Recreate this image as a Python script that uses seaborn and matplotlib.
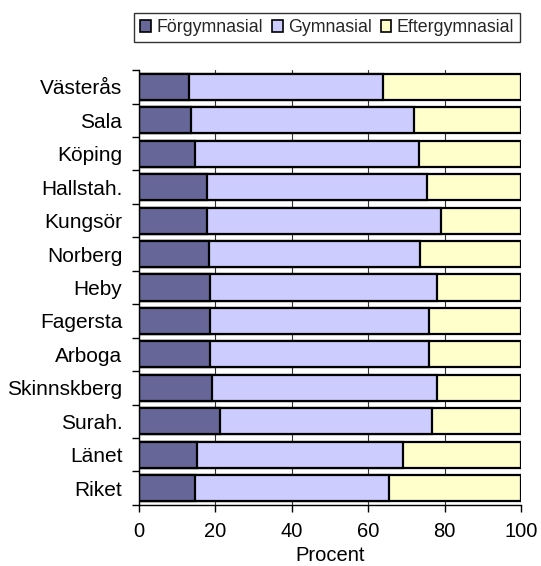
import seaborn as sns
import matplotlib.pyplot as plt
import matplotlib.patches as mpatches
import pandas as pd
import numpy as np

DARK, MID, LIGHT = '#666699', '#ccccff', '#ffffcc'

kommuner = ['Västerås', 'Sala', 'Köping', 'Hallstah.', 'Kungsör', 'Norberg', 'Heby',
            'Fagersta', 'Arboga', 'Skinnskberg', 'Surah.', 'Länet', 'Riket']
forgymn = [13.1, 13.6, 14.7, 17.7, 17.7, 18.3, 18.7, 18.7, 18.7, 19.1, 21.2, 15.2, 14.7]
gymn    = [50.9, 58.4, 58.7, 57.8, 61.4, 55.3, 59.4, 57.3, 57.3, 59.0, 55.4, 53.8, 50.8]
efter   = [36.0, 28.0, 26.6, 24.5, 20.9, 26.4, 21.9, 24.0, 24.0, 21.9, 23.4, 31.0, 34.5]
serier  = ['Förgymnasial', 'Gymnasial', 'Eftergymnasial']

df = pd.DataFrame({'Kommun': kommuner, 'Förgymnasial': forgymn,
                   'Gymnasial': gymn, 'Eftergymnasial': efter})
df['c1'] = df['Förgymnasial']
df['c2'] = df['c1'] + df['Gymnasial']
df['c3'] = df['c2'] + df['Eftergymnasial']

sns.set_theme(style='ticks')
plt.rcParams['font.family'] = ['Liberation Sans', 'DejaVu Sans']

fig = plt.figure(figsize=(5.41, 5.66), dpi=100, facecolor='white')
ax = fig.add_axes([0.257, 0.108, 0.706, 0.768])

# stacked bars: draw cumulative totals from the back to the front
for col, color in [('c3', LIGHT), ('c2', MID), ('c1', DARK)]:
    sns.barplot(data=df, x=col, y='Kommun', orient='h', color=color, ax=ax,
                width=0.78, edgecolor='black', linewidth=1.6, saturation=1,
                errorbar=None, zorder=3)

ax.set_xlim(0, 100)
ax.set_ylim(12.5, -0.5)
ax.set_xticks(np.arange(0, 101, 20))
ax.xaxis.grid(True, color='#333333', lw=0.8)
ax.set_axisbelow(True)
ax.set_xlabel('Procent', fontsize=14.5, color='black', labelpad=4)
ax.set_ylabel('')
ax.tick_params(axis='x', length=5, width=1, color='black', labelsize=14.5,
               labelcolor='black', pad=7)
ax.tick_params(axis='y', which='major', length=0, labelsize=15,
               labelcolor='black', pad=12)
ax.set_yticks(np.arange(-0.5, 13, 1), minor=True)
ax.tick_params(axis='y', which='minor', length=5, width=1, color='black')
for s in ['top', 'right']:
    ax.spines[s].set_visible(False)
for s in ['left', 'bottom']:
    ax.spines[s].set_color('black')
    ax.spines[s].set_linewidth(1)
    ax.spines[s].set_zorder(5)

handles = [mpatches.Patch(facecolor=c, edgecolor='black', lw=1.2, label=l)
           for c, l in zip([DARK, MID, LIGHT], serier)]
leg = fig.legend(handles=handles, loc='center', bbox_to_anchor=(0.605, 0.951),
                 ncol=3, fontsize=12.8, frameon=True, fancybox=False,
                 handlelength=0.6, handleheight=0.6, handletextpad=0.3,
                 columnspacing=0.5, borderpad=0.35, borderaxespad=0)
leg.get_frame().set_edgecolor('black')
leg.get_frame().set_linewidth(1)

fig.savefig('out.png', dpi=100, facecolor='white')
